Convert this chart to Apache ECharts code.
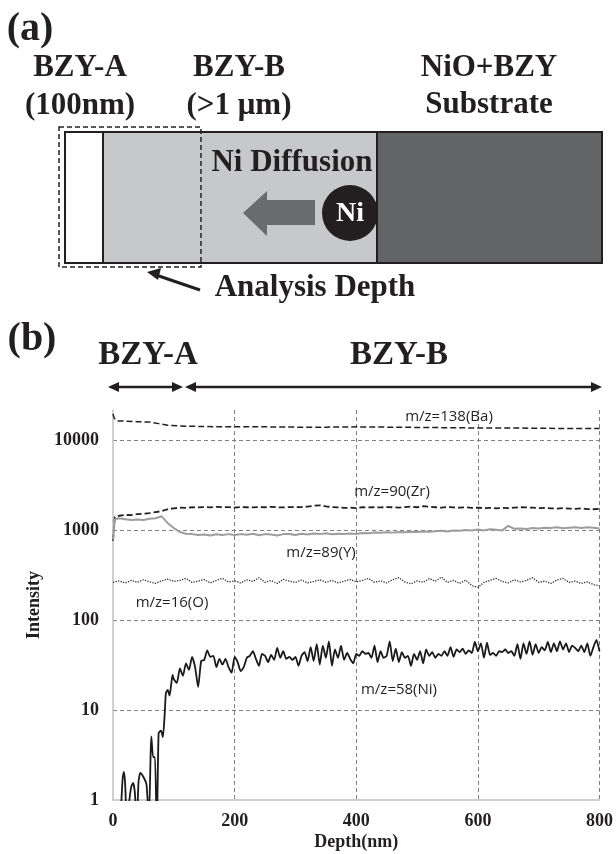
<!DOCTYPE html>
<html>
<head>
<meta charset="utf-8">
<script src="https://cdn.jsdelivr.net/npm/echarts@6/dist/echarts.min.js"></script>
<style>
  html, body { margin: 0; padding: 0; background: #fff; }
  #chart { width: 616px; height: 854px; }
</style>
</head>
<body>
<div id="chart"></div>
<script>
// depth axis (nm) for the slowly varying signals
var depthCoarse = [0, 3, 10, 20, 30, 40, 50, 60, 70, 80, 90, 100, 110, 120, 130, 140, 150, 160, 170, 180, 190,
  200, 210, 220, 230, 240, 250, 260, 270, 280, 290, 300, 310, 320, 330, 340, 350, 360, 370, 380, 390,
  400, 410, 420, 430, 440, 450, 460, 470, 480, 490, 500, 510, 520, 530, 540, 550, 560, 570, 580, 590,
  600, 610, 620, 630, 640, 650, 660, 670, 680, 690, 700, 710, 720, 730, 740, 750, 760, 770, 780, 790, 800];

var zrCounts = [760, 1400, 1440, 1470, 1460, 1500, 1520, 1540, 1580, 1620, 1700, 1740, 1770, 1760, 1790, 1780, 1800, 1780, 1810, 1790, 1800,
  1770, 1800, 1790, 1780, 1800, 1790, 1810, 1790, 1780, 1800, 1790, 1800, 1820, 1860, 1880, 1830, 1800, 1780, 1760, 1770,
  1750, 1790, 1780, 1790, 1780, 1800, 1790, 1770, 1800, 1820, 1790, 1840, 1810, 1790, 1770, 1800, 1780, 1770, 1790, 1760,
  1770, 1750, 1760, 1740, 1760, 1750, 1770, 1790, 1780, 1770, 1750, 1760, 1740, 1730, 1750, 1730, 1720, 1740, 1710, 1700, 1720];

var yCounts = [780, 1320, 1350, 1320, 1290, 1310, 1290, 1330, 1350, 1420, 1190, 1050, 950, 910, 900, 880, 890, 870, 895, 880, 900,
  880, 900, 885, 910, 875, 900, 890, 870, 900, 905, 880, 910, 890, 915, 900, 920, 895, 910, 900, 915,
  905, 925, 920, 940, 930, 945, 935, 950, 945, 955, 950, 965, 955, 970, 980, 965, 990, 980, 1000, 990,
  1010, 990, 1020, 1005, 990, 1110, 1030, 1040, 1025, 1050, 1040, 1060, 1050, 1070, 1045, 1060, 1070, 1055, 1075, 1060, 1040];

var oCounts = [262, 268, 272, 258, 275, 262, 280, 266, 255, 272, 285, 268, 275, 290, 262, 270, 282, 258, 276, 290, 265,
  272, 258, 280, 268, 295, 262, 275, 255, 283, 270, 262, 278, 258, 268, 280, 262, 275, 258, 270, 282,
  265, 275, 290, 262, 272, 258, 280, 295, 265, 252, 272, 262, 288, 270, 300, 262, 275, 255, 278, 242,
  230, 262, 275, 290, 268, 258, 280, 265, 275, 295, 262, 270, 255, 278, 290, 262, 270, 255, 265, 248, 240];

var baDepth = [0, 2, 6, 20, 40, 60, 75, 90, 110, 150, 200, 250, 300, 350, 400, 450, 500, 550, 600, 650, 700, 750, 800];
var baCounts = [19500, 17500, 16300, 16200, 16000, 15800, 15200, 14600, 14300, 14100, 14000, 14000, 13900, 13900, 14000,
  13900, 13800, 13700, 13600, 13600, 13500, 13400, 13400];

var niDepth = [0, 8, 13, 16, 18, 20, 23, 27, 30, 33, 36, 39, 42, 45, 50, 55, 59, 62, 63, 66, 69, 72, 75, 79, 82, 85, 87, 90, 93, 96, 98,
  100, 105, 110, 115, 120, 125, 130, 135, 140, 145, 150, 155, 160, 165, 170, 175, 180, 185, 190, 195,
  200, 205, 210, 215, 220, 225, 230, 235, 240, 245, 250, 255, 260, 265, 270, 275, 280, 285, 290, 295,
  300, 305, 310, 315, 320, 325, 330, 335, 340, 345, 350, 355, 360, 365, 370, 375, 380, 385, 390, 395,
  400, 405, 410, 415, 420, 425, 430, 435, 440, 445, 450, 455, 460, 465, 470, 475, 480, 485, 490, 495,
  500, 505, 510, 515, 520, 525, 530, 535, 540, 545, 550, 555, 560, 565, 570, 575, 580, 585, 590, 595,
  600, 605, 610, 615, 620, 625, 630, 635, 640, 645, 650, 655, 660, 665, 670, 675, 680, 685, 690, 695,
  700, 705, 710, 715, 720, 725, 730, 735, 740, 745, 750, 755, 760, 765, 770, 775, 780, 785, 790, 795, 800];
var niCounts = [0.4, 0.4, 0.8, 1.8, 2.05, 1.5, 0.5, 1.0, 1.4, 1.55, 1.2, 0.5, 1.6, 2.0, 1.8, 1.5, 0.6, 3.5, 5.1, 3.0, 3.0, 0.4, 5.5, 5.9, 5.0, 9, 15.4, 16.7, 14.5, 20, 24.5,
  22, 20, 29, 24, 33, 28, 39, 30, 18, 35, 36, 46, 39, 40, 30, 37, 32, 37, 30, 26,
  39, 34, 27, 30, 38, 40, 45, 37, 31, 42, 40, 34, 41, 36, 49, 38, 45, 37, 39, 36,
  39, 31, 40, 44, 35, 50, 35, 54, 32, 52, 38, 58, 31, 47, 38, 52, 36, 43, 37, 33,
  42, 40, 45, 42, 43, 38, 52, 34, 45, 38, 40, 58, 35, 48, 34, 44, 38, 40, 31, 42,
  36, 45, 33, 47, 40, 44, 38, 42, 40, 45, 40, 50, 39, 47, 44, 48, 42, 46, 43, 57,
  45, 55, 38, 56, 41, 43, 40, 45, 44, 47, 43, 45, 40, 54, 37, 55, 42, 58, 41, 54,
  43, 50, 46, 57, 44, 55, 45, 58, 47, 55, 44, 52, 49, 45, 52, 44, 55, 40, 50, 60, 45];

var xTicks = [0, 200, 400, 600, 800];

function zip(xs, ys) {
  return xs.map(function (x, i) { return [x, ys[i]]; });
}

var ink = '#231f20';
var serif = 'Liberation Serif';

// centred text through the title component
function label(str, x, y, size, family, weight, color) {
  return {
    text: str, left: x, top: y, padding: 0, z: 20,
    textAlign: 'center', textVerticalAlign: 'middle',
    textStyle: { fontFamily: family || serif, fontSize: size, fontWeight: weight || 'bold', color: color || ink }
  };
}

var texts = [
  label('(a)', 30, 30, 40),
  label('BZY-A', 80, 68, 31),
  label('(100nm)', 80, 106, 31),
  label('BZY-B', 239, 68, 31),
  label('(>1 μm)', 239, 106, 31),
  label('NiO+BZY', 489, 68, 31),
  label('Substrate', 489, 105, 31),
  label('Ni Diffusion', 292, 163, 31),
  label('Ni', 350, 214, 28, serif, 'bold', '#ffffff'),
  label('Analysis Depth', 315, 288, 31),
  label('(b)', 32, 340, 40),
  label('BZY-A', 148, 355, 33),
  label('BZY-B', 399, 355, 33),
  label('m/z=138(Ba)', 449, 417, 15, 'Open Sans', 'normal'),
  label('m/z=90(Zr)', 392, 492, 15, 'Open Sans', 'normal'),
  label('m/z=89(Y)', 321, 553, 15, 'Open Sans', 'normal'),
  label('m/z=16(O)', 172, 603, 15, 'Open Sans', 'normal'),
  label('m/z=58(Ni)', 399, 690, 15, 'Open Sans', 'normal')
];

// double headed arrow above the plot
function span(x1, x2, y) {
  return [
    { type: 'line', z: 10, shape: { x1: x1 + 6, y1: y, x2: x2 - 6, y2: y }, style: { stroke: ink, lineWidth: 2.5 } },
    { type: 'polygon', z: 10, shape: { points: [[x1, y], [x1 + 11, y - 5], [x1 + 11, y + 5]] }, style: { fill: ink } },
    { type: 'polygon', z: 10, shape: { points: [[x2, y], [x2 - 11, y - 5], [x2 - 11, y + 5]] }, style: { fill: ink } }
  ];
}

var sketch = [
  { type: 'rect', z: 5, shape: { x: 65, y: 132, width: 38, height: 131 }, style: { fill: '#ffffff', stroke: ink, lineWidth: 2 } },
  { type: 'rect', z: 5, shape: { x: 103, y: 132, width: 274, height: 131 }, style: { fill: '#c7c8ca', stroke: ink, lineWidth: 2 } },
  { type: 'rect', z: 5, shape: { x: 377, y: 132, width: 225, height: 131 }, style: { fill: '#636466', stroke: ink, lineWidth: 2 } },
  { type: 'rect', z: 6, shape: { x: 59, y: 127, width: 142, height: 140 }, style: { fill: 'none', stroke: ink, lineWidth: 1.5, lineDash: [5, 3] } },
  { type: 'polygon', z: 7, shape: { points: [[243, 213], [267, 191], [267, 200], [315, 200], [315, 225], [267, 225], [267, 236]] },
    style: { fill: '#6a6b6d' } },
  { type: 'circle', z: 7, shape: { cx: 350, cy: 213, r: 28 }, style: { fill: ink } },
  { type: 'line', z: 10, shape: { x1: 200, y1: 290, x2: 156, y2: 275 }, style: { stroke: ink, lineWidth: 3 } },
  { type: 'polygon', z: 10, shape: { points: [[147, 272], [161, 268], [158, 280]] }, style: { fill: ink } }
].concat(span(108, 183, 387)).concat(span(185, 602, 387));

var chart = echarts.init(document.getElementById('chart'));
chart.setOption({
  animation: false,
  backgroundColor: '#ffffff',
  title: texts,
  grid: { left: 113, right: 15, top: 410, bottom: 54 },
  xAxis: {
    type: 'value', min: xTicks[0], max: xTicks[xTicks.length - 1], interval: 200,
    name: 'Depth(nm)', nameLocation: 'middle', nameGap: 33,
    nameTextStyle: { fontFamily: serif, fontWeight: 'bold', fontSize: 18, color: ink },
    axisLine: { show: true, lineStyle: { color: '#c0c0c0', width: 1.5 } },
    axisTick: { show: false },
    axisLabel: { margin: 12, fontFamily: serif, fontWeight: 'bold', fontSize: 18, color: ink },
    splitLine: { show: true, showMinLine: false, lineStyle: { color: '#808080', type: [4, 3], width: 1 } }
  },
  yAxis: {
    type: 'log', logBase: 10, min: 1, max: 21544,
    name: 'Intensity', nameLocation: 'middle', nameGap: 48,
    nameTextStyle: { fontFamily: serif, fontWeight: 'bold', fontSize: 18, color: ink },
    axisLine: { show: true, lineStyle: { color: '#c0c0c0', width: 1.5 } },
    axisTick: { show: false },
    axisLabel: {
      margin: 14, showMaxLabel: false, fontFamily: serif, fontWeight: 'bold', fontSize: 18, color: ink,
      formatter: function (v) { return String(Math.round(v)); }
    },
    splitLine: { show: true, showMinLine: false, showMaxLine: false, lineStyle: { color: '#808080', type: [4, 3], width: 1 } }
  },
  series: [
    { name: 'Ba', type: 'line', data: zip(baDepth, baCounts), showSymbol: false, clip: true,
      lineStyle: { color: ink, width: 1.5, type: [6, 3] } },
    { name: 'Zr', type: 'line', data: zip(depthCoarse, zrCounts), showSymbol: false, clip: true,
      lineStyle: { color: ink, width: 1.8, type: [6, 3] } },
    { name: 'Y', type: 'line', data: zip(depthCoarse, yCounts), showSymbol: false, clip: true,
      lineStyle: { color: '#9d9d9d', width: 2 } },
    { name: 'O', type: 'line', data: zip(depthCoarse, oCounts), showSymbol: false, clip: true,
      lineStyle: { color: '#333333', width: 1.3, type: 'dotted' } },
    { name: 'Ni', type: 'line', data: zip(niDepth, niCounts), showSymbol: false, clip: true, smooth: 0.2,
      lineStyle: { color: '#1a1a1a', width: 1.8 } }
  ],
  graphic: { elements: sketch }
});
</script>
</body>
</html>
